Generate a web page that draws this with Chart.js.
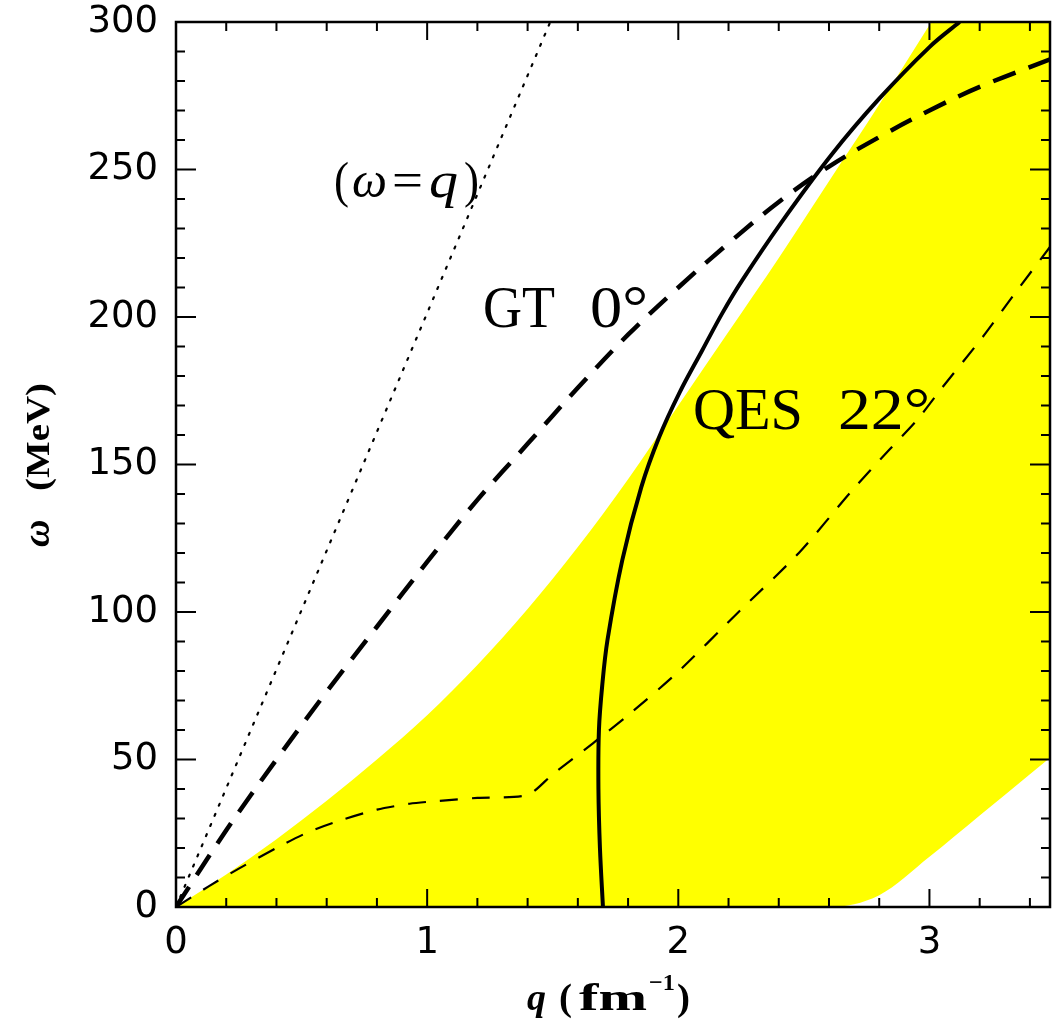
<!DOCTYPE html>
<html>
<head>
<meta charset="utf-8">
<script src="https://cdn.jsdelivr.net/npm/chart.js@4.4.1/dist/chart.umd.min.js"></script>
<style>
  html, body { margin: 0; padding: 0; background: #fff; overflow: hidden; }
  #wrap { width: 1052px; height: 1022px; position: relative; }
</style>
</head>
<body>
<div id="wrap"><canvas id="qwChart"></canvas></div>
<script>
// q grid shared by both edges of the yellow band
const bandQ     = [0, 0.2, 0.4, 0.6, 0.8, 1.0, 1.2, 1.4, 1.6, 1.8, 2.0, 2.2, 2.4, 2.6, 2.8, 3.0, 3.2, 3.4, 3.6];
const bandLower = [0, 0,   0,   0,   0,   0,   0,   0,   0,   0,   0,   0,   0,   0,   4,   17,  31,  45,  59];
const bandUpper = [0, 11,  23,  36,  50,  65,  82,  101, 122, 145, 170, 195, 220, 246, 272, 299, 326, 353, 380];

// light line omega = q
const lightQ = [0, 1.49];
const lightW = [0, 300];

// GT 0 deg (thick dashed)
const gtQ = [0, 0.2, 0.4, 0.6, 0.8, 1.0, 1.2, 1.4, 1.6, 1.8, 2.0, 2.2, 2.4, 2.6, 2.8, 3.0, 3.2, 3.5];
const gtW = [0, 26,  50,  73,  95,  117, 138, 157, 176, 194, 210, 225, 239, 251, 261, 270, 278, 288];

// QES 22 deg (solid)
const qesQ = [1.700, 1.688, 1.682, 1.684, 1.697, 1.718, 1.777, 1.853, 1.924, 2.004, 2.096, 2.176, 2.255, 2.41, 2.61, 2.80, 3.00, 3.12];
const qesW = [0,     20,    40,    60,    75,    90.5,  117.6, 142.4, 159.3, 174.2, 188.8, 201.4, 212.5, 232,  255,  274,  291.5, 300];

// thin dashed curve
const thinQ = [0, 0.13, 0.25, 0.4, 0.53, 0.66, 0.8, 0.93, 1.05, 1.2, 1.4, 1.5, 1.66, 1.8, 1.99, 2.24, 2.48, 2.69, 2.84, 2.95, 3.05, 3.21, 3.34, 3.5];
const thinW = [0, 7,    13,   20,  25.5, 29.5, 33,  35,   36,   37,  38,  45,  55.5, 65,  79,   100,  120,  141,  155,  165,  176,  193,  208,  226];

const xTickLabels = [0, 1, 2, 3];
const yTickLabels = [0, 50, 100, 150, 200, 250, 300];

function pairs(xs, ys) {
    return xs.map((x, i) => ({ x: x, y: ys[i] }));
}

const serif = '"Liberation Serif", "DejaVu Serif", serif';

// text squeezed/stretched horizontally into [x0, x1]
function fitText(ctx, text, font, x0, x1, y) {
    ctx.save();
    ctx.font = font;
    const w = ctx.measureText(text).width;
    ctx.translate(x0, y);
    ctx.scale((x1 - x0) / w, 1);
    ctx.fillText(text, 0, 0);
    ctx.restore();
}

// frame, inward ticks, annotations and axis titles
const framePlugin = {
    id: 'frame',
    afterDraw(chart) {
        const { ctx, chartArea: a, scales } = chart;
        const xs = scales.x, ys = scales.y;
        ctx.save();
        ctx.strokeStyle = '#000';
        ctx.lineWidth = 2.5;
        ctx.strokeRect(a.left, a.top, a.right - a.left, a.bottom - a.top);

        ctx.lineWidth = 2;
        ctx.beginPath();
        for (let i = 0; i <= 17; i++) {
            const px = xs.getPixelForValue(i * 0.2);
            if (px > a.right) break;
            const len = (i % 5 === 0) ? 18 : 9;
            ctx.moveTo(px, a.bottom); ctx.lineTo(px, a.bottom - len);
            ctx.moveTo(px, a.top);    ctx.lineTo(px, a.top + len);
        }
        for (let v = 0; v <= 300; v += 10) {
            const py = ys.getPixelForValue(v);
            const len = (v % 50 === 0) ? 20 : 9;
            ctx.moveTo(a.left, py);  ctx.lineTo(a.left + len, py);
            ctx.moveTo(a.right, py); ctx.lineTo(a.right - len, py);
        }
        ctx.stroke();

        ctx.fillStyle = '#000';
        ctx.textBaseline = 'alphabetic';
        ctx.textAlign = 'left';

        // (omega = q) label
        const lb = ys.getPixelForValue(240.7);
        fitText(ctx, '(', '50px ' + serif, 334, 349, lb);
        fitText(ctx, '\u03c9', 'italic 50px ' + serif, 352, 387, lb);
        fitText(ctx, '=', '50px ' + serif, 392, 423, lb);
        fitText(ctx, 'q', 'italic 50px ' + serif, 429, 458, lb);
        fitText(ctx, ')', '50px ' + serif, 464, 479, lb);

        const gb = ys.getPixelForValue(196.6);
        fitText(ctx, 'GT', '60px ' + serif, 483, 555, gb);
        fitText(ctx, '0\u00b0', '60px ' + serif, 590, 648, gb);
        const qb = ys.getPixelForValue(162);
        fitText(ctx, 'QES', '60px ' + serif, 693, 803, qb);
        fitText(ctx, '22\u00b0', '60px ' + serif, 838, 930, qb);

        // x title: q (fm^-1)
        const xb = 1010;
        fitText(ctx, 'q', 'italic bold 38px ' + serif, 527, 546, xb);
        fitText(ctx, '(', 'bold 38px ' + serif, 559, 572, xb);
        fitText(ctx, 'fm', 'bold 38px ' + serif, 579, 647, xb);
        fitText(ctx, '\u22121', 'bold 24px ' + serif, 649, 675, xb - 20);
        fitText(ctx, ')', 'bold 38px ' + serif, 677, 690, xb);

        // y title: omega (MeV), rotated
        ctx.translate(49, 547);
        ctx.rotate(-Math.PI / 2);
        ctx.font = 'italic bold 38px ' + serif;
        ctx.fillText('\u03c9', 0, 0);
        fitText(ctx, '(MeV)', 'bold 34px ' + serif, 56, 164, 0);
        ctx.restore();
    }
};

const tickFont = { family: '"DejaVu Sans", "Liberation Sans", sans-serif', size: 37 };

const ctx = document.getElementById('qwChart').getContext('2d');
new Chart(ctx, {
    type: 'scatter',
    data: {
        datasets: [
            {
                label: 'omega = q',
                data: pairs(lightQ, lightW),
                showLine: true,
                borderColor: '#000',
                borderWidth: 2.2,
                borderDash: [2, 9],
                borderCapStyle: 'round',
                pointRadius: 0,
                order: 1
            },
            {
                label: 'GT 0',
                data: pairs(gtQ, gtW),
                showLine: true,
                borderColor: '#000',
                borderWidth: 4.5,
                borderDash: [24, 14],
                tension: 0.35,
                pointRadius: 0,
                order: 1
            },
            {
                label: 'QES 22',
                data: pairs(qesQ, qesW),
                showLine: true,
                borderColor: '#000',
                borderWidth: 4,
                tension: 0.35,
                pointRadius: 0,
                order: 1
            },
            {
                label: 'thin dashed',
                data: pairs(thinQ, thinW),
                showLine: true,
                borderColor: '#000',
                borderWidth: 2.2,
                borderDash: [18, 14],
                tension: 0.25,
                pointRadius: 0,
                order: 1
            },
            {
                label: 'band lower',
                data: pairs(bandQ, bandLower),
                showLine: true,
                borderWidth: 0,
                borderColor: 'rgba(0,0,0,0)',
                pointRadius: 0,
                cubicInterpolationMode: 'monotone',
                order: 10
            },
            {
                label: 'band upper',
                data: pairs(bandQ, bandUpper),
                showLine: true,
                borderWidth: 0,
                borderColor: 'rgba(0,0,0,0)',
                backgroundColor: '#ffff00',
                fill: '-1',
                pointRadius: 0,
                cubicInterpolationMode: 'monotone',
                order: 10
            }
        ]
    },
    options: {
        responsive: true,
        maintainAspectRatio: false,
        animation: false,
        layout: { padding: { top: 22, right: 2, left: 0, bottom: 0 } },
        plugins: {
            legend: { display: false },
            tooltip: { enabled: false }
        },
        scales: {
            x: {
                type: 'linear',
                min: 0,
                max: 3.48,
                grid: { display: false, drawTicks: false },
                border: { display: false },
                afterBuildTicks: s => { s.ticks = xTickLabels.map(v => ({ value: v })); },
                afterFit: s => { s.height = 115; s.paddingLeft = 0; s.paddingRight = 0; },
                ticks: { color: '#000', padding: 14, maxRotation: 0, font: tickFont }
            },
            y: {
                type: 'linear',
                min: 0,
                max: 300,
                grid: { display: false, drawTicks: false },
                border: { display: false },
                afterBuildTicks: s => { s.ticks = yTickLabels.map(v => ({ value: v })); },
                afterFit: s => { s.width = 176; s.paddingTop = 0; s.paddingBottom = 0; },
                ticks: { color: '#000', padding: 18, font: tickFont }
            }
        }
    },
    plugins: [framePlugin]
});
</script>
</body>
</html>
